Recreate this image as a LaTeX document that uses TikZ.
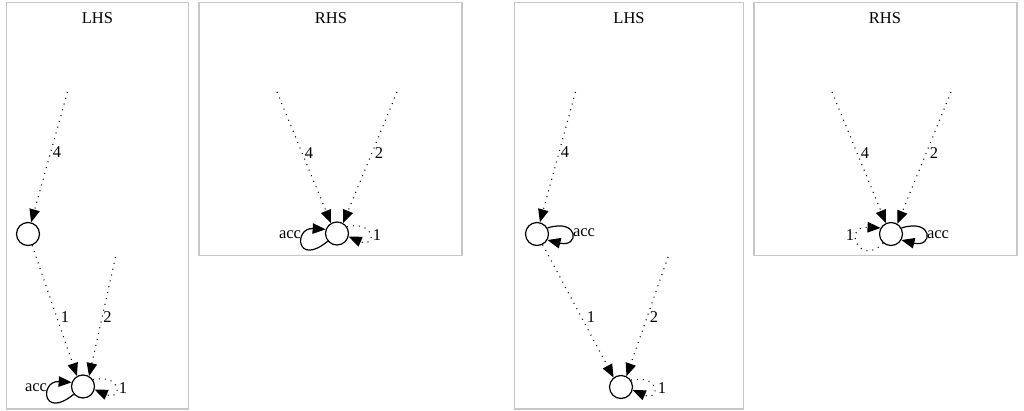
\documentclass[tikz,border=0pt]{standalone}
\usepackage{fontspec}
\setmainfont{Liberation Serif}
\usetikzlibrary{arrows.meta}
\begin{document}
\begin{tikzpicture}[x=1pt,y=-1pt,
  panel/.style={draw=black!22, line width=1.2pt},
  state/.style={circle, draw, line width=1.2pt, minimum size=23pt, inner sep=0pt},
  lbl/.style={inner sep=0pt, font=\fontsize{16.5}{18}\selectfont},
  tip/.style={-{Triangle[length=13pt,width=10.5pt]}},
  dotedge/.style={line width=1.1pt, dash pattern=on 1pt off 5pt, tip},
  solidloop/.style={line width=1.2pt, tip},
]
\useasboundingbox (0,0) rectangle (1024,411);
% panels
\draw[panel] (6.5,2.5) rectangle (188.5,409);
\draw[panel] (199,2.5) rectangle (462,255.5);
\draw[panel] (514.5,2.5) rectangle (743.5,409);
\draw[panel] (754,2.5) rectangle (1017,255.5);

% ---------- panel 1 (LHS) ----------
\node[lbl] (t1) at (97.5,18.5) {LHS};
\node[state] (a1) at (28,234) {};
\node[state] (a2) at (83,386.5) {};
\coordinate (a4s) at (67.5,92);
\coordinate (a2s) at (115.5,257);
\draw[dotedge] (a4s) -- (a1.75);
\draw[dotedge] (a1.-70) -- (a2.120);
\draw[dotedge] (a2s) -- (a2.60);
\draw[solidloop] (a2.220) .. controls +(-32,26) and +(-32,-2) .. (a2.160);
\draw[dotedge] (a2.35) .. controls +(30,-6) and +(28,12) .. (a2.-15);
\node[lbl] (a1l4) at (57,152.5) {4};
\node[lbl] (a1l1) at (65,317.5) {1};
\node[lbl] (a1l2) at (107.5,317.5) {2};
\node[lbl] (a1acc) at (36,388) {acc};
\node[lbl] (a1loop) at (123,388) {1};

% ---------- panel 2 (RHS) ----------
\node[lbl] (t2) at (331,18.5) {RHS};
\node[state] (b) at (337,233.5) {};
\coordinate (b4s) at (277,92);
\coordinate (b2s) at (397,92);
\draw[dotedge] (b4s) -- (b.120);
\draw[dotedge] (b2s) -- (b.60);
\draw[solidloop] (b.220) .. controls +(-32,26) and +(-32,-2) .. (b.160);
\draw[dotedge] (b.35) .. controls +(30,-6) and +(28,12) .. (b.-15);
\node[lbl] (bl4) at (309,153) {4};
\node[lbl] (bl2) at (379,153) {2};
\node[lbl] (bacc) at (290,235) {acc};
\node[lbl] (bloop) at (377,235) {1};

% ---------- panel 3 (LHS) ----------
\node[lbl] (t3) at (629,18.5) {LHS};
\node[state] (c1) at (537,234) {};
\node[state] (c2) at (621,387) {};
\coordinate (c4s) at (575.5,92);
\coordinate (c2s) at (668,257);
\draw[dotedge] (c4s) -- (c1.76);
\draw[dotedge] (c1.-62) -- (c2.128);
\draw[dotedge] (c2s) -- (c2.63);
\draw[solidloop] (c1.30) .. controls +(32,-10) and +(32,8) .. (c1.-30);
\draw[dotedge] (c2.35) .. controls +(30,-6) and +(28,12) .. (c2.-15);
\node[lbl] (cl4) at (565,152.5) {4};
\node[lbl] (cacc) at (584,233) {acc};
\node[lbl] (cl1) at (591,317.5) {1};
\node[lbl] (cl2) at (654,317.5) {2};
\node[lbl] (cloop) at (662,388) {1};

% ---------- panel 4 (RHS) ----------
\node[lbl] (t4) at (885,18.5) {RHS};
\node[state] (d) at (891,234) {};
\coordinate (d4s) at (832,92);
\coordinate (d2s) at (951,92);
\draw[dotedge] (d4s) -- (d.115);
\draw[dotedge] (d2s) -- (d.58);
\draw[solidloop] (d.30) .. controls +(32,-10) and +(32,8) .. (d.-30);
\draw[dotedge] (d.230) .. controls +(-24,24) and +(-38,-2) .. (d.150);
\node[lbl] (dl4) at (865,153) {4};
\node[lbl] (dl2) at (934,153) {2};
\node[lbl] (dacc) at (938,235) {acc};
\node[lbl] (dloop) at (850,235) {1};
\end{tikzpicture}
\end{document}
